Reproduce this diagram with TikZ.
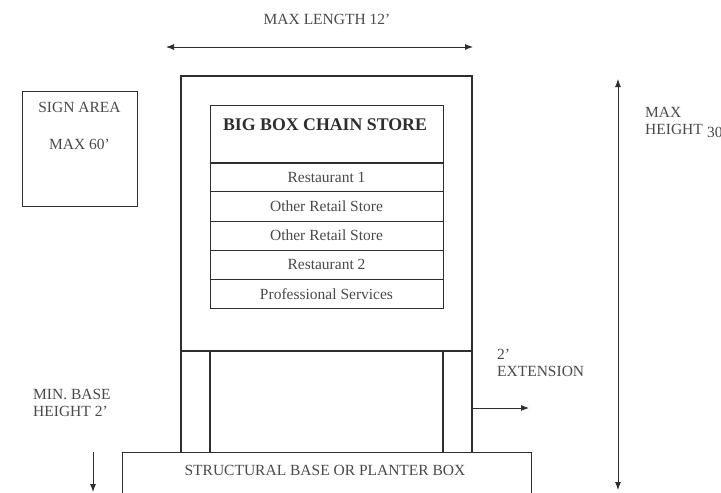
\documentclass[tikz,border=0pt]{standalone}
\usepackage{fontspec}
\setmainfont{Liberation Serif}
\usetikzlibrary{arrows.meta}
\definecolor{ink}{HTML}{2E2E2E}
\definecolor{txt}{HTML}{4A4A4A}
\tikzset{
  thinbox/.style={draw=ink, line width=0.9pt, inner sep=0pt},
  lbl/.style={text=txt, font=\fontsize{15.5}{17}\selectfont, inner sep=0pt},
  rowbox/.style={thinbox, minimum width=233pt, minimum height=29pt, lbl},
  tip/.tip={Latex[length=8pt,width=6pt]},
  dim/.style={draw=ink, line width=0.9pt, -tip},
  dimboth/.style={draw=ink, line width=0.9pt, tip-tip},
  thick frame/.style={draw=ink, line width=2.6pt},
  post/.style={draw=ink, line width=2pt},
}
\begin{document}
\begin{tikzpicture}[x=1pt,y=-1pt]
\useasboundingbox (0,0) rectangle (721,493);
\fill[white] (0,0) rectangle (721,493);

% max length
\node[lbl, anchor=base] (maxlen) at (327,24) {MAX LENGTH 12'};
\coordinate (mlL) at (166,47);
\coordinate (mlR) at (473,47);
\draw[dimboth] (mlL) -- (mlR);

% sign area
\node[thinbox, minimum width=115pt, minimum height=115pt] (signarea) at (79.5,148.5) {};
\node[lbl, anchor=base] (sa1) at (79.5,112) {SIGN AREA};
\node[lbl, anchor=base] (sa2) at (79.5,149) {MAX 60'};

% outer sign frame
\node[thick frame, minimum width=291pt, minimum height=275pt, inner sep=0pt] (outer) at (326.5,213.5) {};

% inner panel
\node[thinbox, minimum width=233pt, minimum height=58pt] (header) at (326.5,134) {};
\node[anchor=base, font=\fontsize{17.8}{19}\selectfont\bfseries, text=ink, inner sep=0pt] (title) at (325,130) {BIG BOX CHAIN STORE};
\node[rowbox] (r1) at (326.5,177) {};
\node[lbl, anchor=base] at (326.5,182) {Restaurant 1};
\node[rowbox, minimum height=30pt] (r2) at (326.5,206) {};
\node[lbl, anchor=base] at (326.5,211) {Other Retail Store};
\node[rowbox] (r3) at (326.5,235.5) {};
\node[lbl, anchor=base] at (326.5,240) {Other Retail Store};
\node[rowbox] (r4) at (326.5,264.5) {};
\node[lbl, anchor=base] at (326.5,269) {Restaurant 2};
\node[rowbox] (r5) at (326.5,293.5) {};
\node[lbl, anchor=base] at (326.5,299) {Professional Services};

% base / planter
\node[thinbox, minimum width=409pt, minimum height=46pt] (base) at (326.5,475) {};
\node[lbl, anchor=base] (basetxt) at (325,475) {STRUCTURAL BASE OR PLANTER BOX};

% posts
\coordinate (pLo) at (181,351);
\coordinate (pLi) at (210,351);
\coordinate (pRi) at (443,351);
\coordinate (pRo) at (472,351);
\draw[post] (pLo) -- (pLo |- base.north);
\draw[post] (pLi) -- (pLi |- base.north);
\draw[post] (pRi) -- (pRi |- base.north);
\draw[post] (pRo) -- (pRo |- base.north);

% extension
\node[lbl, anchor=base west] (ext1) at (497,359) {2'};
\node[lbl, anchor=base west] (ext2) at (497,376) {EXTENSION};
\coordinate (exS) at (472,408);
\coordinate (exE) at (529,408);
\draw[dim] (exS) -- (exE);

% max height
\coordinate (mhT) at (618,79);
\coordinate (mhB) at (618,490);
\draw[dimboth] (mhB) -- (mhT);
\node[lbl, anchor=base west] (mh1) at (645,117) {MAX};
\node[lbl, anchor=base west] (mh2) at (645,134) {HEIGHT};
\node[lbl, anchor=base west] (mh3) at (707,137) {30};

% min base height
\node[lbl, anchor=base west] (mb1) at (33,399) {MIN. BASE};
\node[lbl, anchor=base west] (mb2) at (33,416) {HEIGHT 2'};
\coordinate (mbT) at (93,452);
\coordinate (mbB) at (93,492);
\draw[dim] (mbT) -- (mbB);
\end{tikzpicture}
\end{document}
